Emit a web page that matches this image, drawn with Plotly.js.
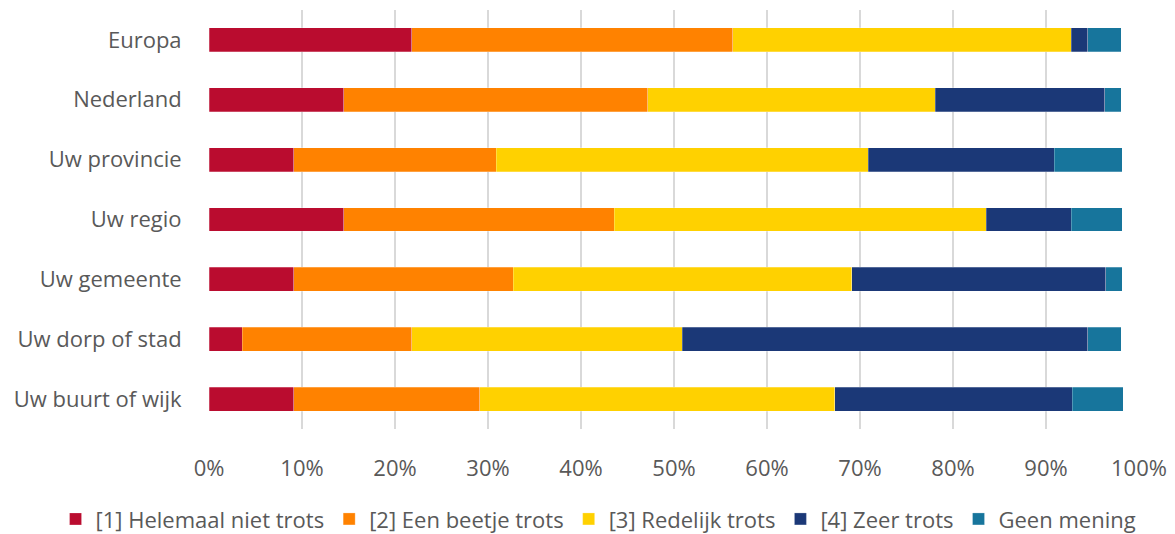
<!DOCTYPE html>
<html>
<head>
<meta charset="utf-8">
<script src="https://cdn.plot.ly/plotly-3.0.1.min.js"></script>
<style>html,body{margin:0;padding:0;background:#fff;}#chart{width:1175px;height:534px;}</style>
</head>
<body>
<div id="chart"></div>
<script>
const categories = ["Europa", "Nederland", "Uw provincie", "Uw regio", "Uw gemeente", "Uw dorp of stad", "Uw buurt of wijk"];
const seriesNames = ["[1] Helemaal niet trots", "[2] Een beetje trots", "[3] Redelijk trots", "[4] Zeer trots", "Geen mening"];
const helemaalNiet = [21.8, 14.5, 9.1, 14.5, 9.1, 3.6, 9.1];
const beetje      = [34.5, 32.7, 21.8, 29.1, 23.6, 18.2, 20.0];
const redelijk    = [36.4, 30.9, 40.0, 40.0, 36.4, 29.1, 38.2];
const zeer        = [1.8, 18.2, 20.0, 9.1, 27.3, 43.6, 25.5];
const geenMening  = [3.6, 1.8, 7.3, 5.5, 1.8, 3.6, 5.5];
const tickVals = [0, 10, 20, 30, 40, 50, 60, 70, 80, 90, 100];
const tickText = ["0%", "10%", "20%", "30%", "40%", "50%", "60%", "70%", "80%", "90%", "100%"];

const colors = ["#BA0C2F", "#FF8200", "#FFD100", "#1B3877", "#17759C"];
const seriesValues = [helemaalNiet, beetje, redelijk, zeer, geenMening];

const traces = seriesValues.map((vals, i) => ({
  type: "bar",
  orientation: "h",
  name: seriesNames[i],
  y: categories,
  x: vals,
  marker: {color: colors[i], line: {color: "rgba(255,255,255,0.5)", width: 0.5}},
  hoverinfo: "x+y+name"
}));

const layout = {
  width: 1175, height: 534,
  barmode: "stack",
  bargap: 0.6,
  margin: {l: 209, r: 36, t: 10, b: 105, autoexpand: false},
  paper_bgcolor: "#fff",
  plot_bgcolor: "#fff",
  font: {family: "Open Sans, Noto Sans, sans-serif", size: 22, color: "#595959"},
  xaxis: {
    range: [0, 100],
    tickvals: tickVals,
    ticktext: tickText,
    showgrid: true,
    gridcolor: "#D9D9D9",
    gridwidth: 2,
    zeroline: false,
    showline: false,
    ticks: "outside",
    ticklen: 20,
    tickcolor: "rgba(0,0,0,0)",
    tickfont: {size: 22, color: "#595959"},
    fixedrange: true
  },
  yaxis: {
    autorange: "reversed",
    showgrid: false,
    zeroline: false,
    showline: false,
    ticks: "outside",
    ticklen: 22,
    tickcolor: "rgba(0,0,0,0)",
    tickfont: {size: 22, color: "#595959"},
    fixedrange: true
  },
  legend: {
    orientation: "h",
    x: -0.165, xanchor: "left",
    y: -0.165, yanchor: "top",
    font: {size: 22, color: "#595959"},
    traceorder: "normal",
    itemclick: false,
    itemwidth: 30
  },
  showlegend: true
};

Plotly.newPlot("chart", traces, layout, {displayModeBar: false, staticPlot: false});
</script>
</body>
</html>
